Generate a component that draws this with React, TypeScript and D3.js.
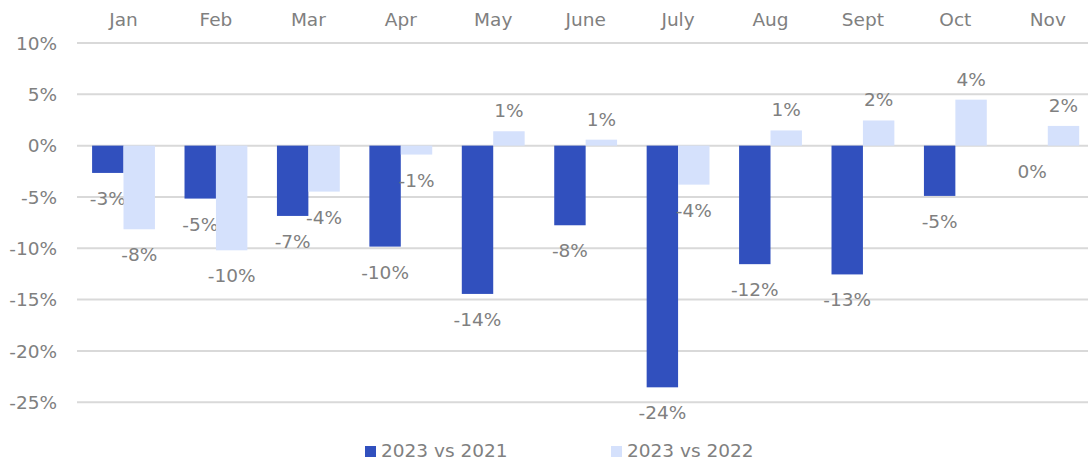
import React from "react";
import * as d3 from "d3";

const months = ["Jan", "Feb", "Mar", "Apr", "May", "June", "July", "Aug", "Sept", "Oct", "Nov"];
const seriesNames = ["2023 vs 2021", "2023 vs 2022"];
const vs2021 = [-2.66, -5.16, -6.85, -9.84, -14.45, -7.76, -23.55, -11.55, -12.55, -4.9, 0];
const vs2022 = [-8.15, -10.2, -4.48, -0.87, 1.4, 0.58, -3.8, 1.48, 2.45, 4.48, 1.92];
const yTicks = [-25, -20, -15, -10, -5, 0, 5, 10];
const colors = ["#3150BE", "#D5E1FC"];

const W = 1088;
const H = 463;
const FONT = "'DejaVu Sans', Verdana, sans-serif";
const TEXT = "#808080";

export default function App() {
  const x0 = d3.scaleBand<string>().domain(months).range([77.3, 1094]).paddingInner(0.32).paddingOuter(0.16);
  const x1 = d3.scaleBand<string>().domain(seriesNames).range([0, x0.bandwidth()]);
  const y = d3.scaleLinear().domain([-25, 10]).range([402.2, 43]);
  const fmt = (v: number) => `${Math.round(v) === 0 ? 0 : Math.round(v)}%`;
  const data = [vs2021, vs2022];

  return (
    <svg width={W} height={H} style={{ position: "absolute", left: 0, top: 0, background: "#fff" }} fontFamily={FONT}>
      {yTicks.map((t) => (
        <g key={t}>
          <line x1={77} x2={W} y1={y(t)} y2={y(t)} stroke="#D9D9D9" strokeWidth={2} />
          <text x={57} y={y(t) + 6.7} textAnchor="end" fontSize={18.5} fill={TEXT}>
            {`${t}%`}
          </text>
        </g>
      ))}
      {months.map((m) => (
        <text key={m} x={(x0(m) as number) + x0.bandwidth() / 2} y={25.5} textAnchor="middle" fontSize={18.5} fill={TEXT}>
          {m}
        </text>
      ))}
      {seriesNames.map((s, si) =>
        months.map((m, i) => {
          const v = data[si][i];
          const bx = (x0(m) as number) + (x1(s) as number);
          const bw = x1.bandwidth();
          const y0 = y(0);
          const yv = y(v);
          return (
            <g key={s + m}>
              {v !== 0 && (
                <rect x={bx} y={Math.min(y0, yv)} width={bw} height={Math.abs(yv - y0)} fill={colors[si]} />
              )}
              <text
                x={bx + bw / 2}
                y={v > 0 ? yv - 14 : yv + 32}
                textAnchor="middle"
                fontSize={18.5}
                fill={TEXT}
              >
                {fmt(v)}
              </text>
            </g>
          );
        })
      )}
      {seriesNames.map((s, si) => {
        const lx = [365, 611][si];
        return (
          <g key={"leg" + s}>
            <rect x={lx} y={446} width={11} height={11} fill={colors[si]} />
            <text x={lx + 16} y={457} fontSize={18.5} fill={TEXT}>
              {s}
            </text>
          </g>
        );
      })}
    </svg>
  );
}
